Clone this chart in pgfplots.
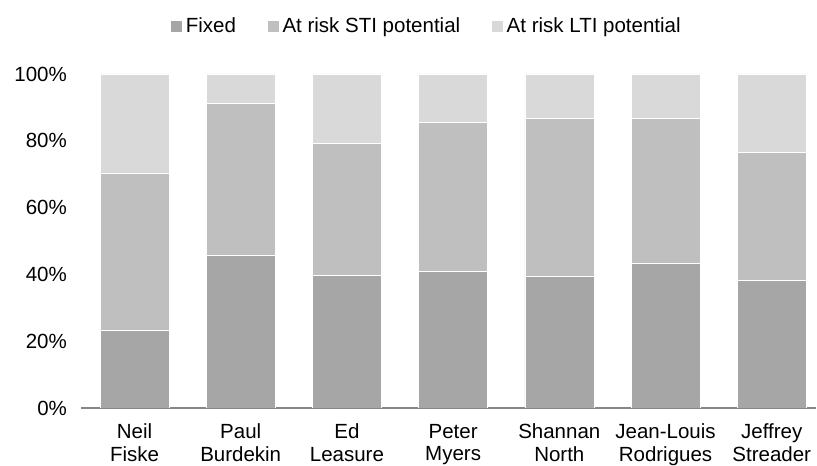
\documentclass[border=0pt]{standalone}
\usepackage{pgfplots}
\pgfplotsset{compat=1.18}
\usepackage{fontspec}
\setmainfont{Liberation Sans}
\definecolor{cFixed}{HTML}{A6A6A6}
\definecolor{cSTI}{HTML}{BFBFBF}
\definecolor{cLTI}{HTML}{D9D9D9}
\definecolor{cAxis}{HTML}{868686}
\begin{document}
\begin{tikzpicture}
\useasboundingbox (0,0) rectangle (817bp,466bp);
\begin{axis}[
  at={(81.4bp,58bp)}, anchor=south west,
  scale only axis,
  width=734.6bp, height=334bp,
  ybar stacked,
  bar width=69bp,
  xmin=-0.5, xmax=6.417,
  ymin=0, ymax=100,
  xtick={0,1,2,3,4,5,6},
  xticklabels={{Neil\\Fiske},{Paul\\Burdekin},{Ed\\Leasure},{Peter\\Myers},{Shannan\\North},{Jean-Louis\\Rodrigues},{Jeffrey\\Streader}},
  ytick={0,20,40,60,80,100},
  yticklabels={0\%,20\%,40\%,60\%,80\%,100\%},
  major tick length=0pt,
  axis x line*=bottom,
  axis y line*=left,
  y axis line style={draw=none},
  x axis line style={draw=cAxis, line width=1.3bp, -},
  tick label style={font=\fontsize{20.5bp}{22.3bp}\selectfont, text=black},
  xticklabel style={align=center, yshift=-12.5bp},
  yticklabel style={xshift=-11bp},
  legend columns=3,
  legend style={draw=none, fill=none, at={(0.4705,1.1437)}, anchor=center,
    font=\fontsize{20.5bp}{20.5bp}\selectfont,
    nodes={inner xsep=3bp},
    /tikz/every even column/.append style={column sep=28bp},
    legend cell align=left},
  legend image code/.code={\fill[#1] (0bp,-6bp) rectangle (12bp,6bp);},
  every axis plot/.append style={draw=white, line width=0.5bp},
]
\addplot[fill=cFixed, draw=white] coordinates {(0,23.4) (1,45.6) (2,39.6) (3,40.9) (4,39.3) (5,43.3) (6,38.3)};
\addplot[fill=cSTI, draw=white] coordinates {(0,47.0) (1,45.7) (2,39.7) (3,44.7) (4,47.4) (5,43.5) (6,38.3)};
\addplot[fill=cLTI, draw=white] coordinates {(0,29.6) (1,8.7) (2,20.7) (3,14.4) (4,13.3) (5,13.2) (6,23.4)};
\legend{Fixed, At risk STI potential, At risk LTI potential}
\end{axis}
\end{tikzpicture}
\end{document}
